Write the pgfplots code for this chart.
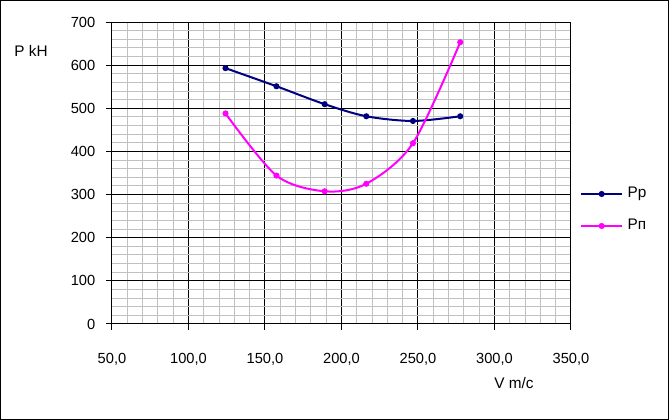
\documentclass[border=0pt]{standalone}
\usepackage{fontspec}
\setmainfont{Liberation Sans}
\usepackage{pgfplots}
\pgfplotsset{compat=1.18}
\definecolor{pnavy}{RGB}{0,0,128}
\definecolor{pmag}{RGB}{255,0,255}
\definecolor{mgrid}{RGB}{192,192,192}
\begin{document}
\begin{tikzpicture}
\useasboundingbox (-84pt,-72pt) rectangle (417.75pt,243pt);
\begin{axis}[
  at={(0,0)}, anchor=south west,
  scale only axis, width=344.25pt, height=226.5pt,
  xmin=50, xmax=350, ymin=0, ymax=700,
  xtick={50,100,...,350}, ytick={0,100,...,700},
  minor x tick num=4, minor y tick num=4,
  grid=both,
  major grid style={black, line width=0.75pt},
  minor grid style={mgrid, line width=0.75pt},
  axis line style={black, line width=0.75pt},
  tick align=outside, major tick length=4.5pt, minor tick length=0pt,
  tick style={black, line width=0.75pt},
  xtick pos=bottom, ytick pos=left,
  /pgf/number format/assume math mode=true,
  xticklabel style={/pgf/number format/.cd, fixed, fixed zerofill, precision=1, use comma, /tikz/.cd, yshift=-14.2pt},
  yticklabel style={/pgf/number format/.cd, fixed, /tikz/.cd, xshift=-4.5pt},
  ticklabel style={font=\fontsize{11pt}{13pt}\selectfont},
  every axis y label/.style={at={(axis description cs:-0.1765,0.903)}, anchor=center, font=\fontsize{11.5pt}{13pt}\selectfont},
  every axis x label/.style={at={(axis description cs:0.8758,-0.1954)}, anchor=center, font=\fontsize{11.5pt}{13pt}\selectfont},
  xlabel={V m/c}, ylabel={P kH},
  legend style={draw=none, fill=none, at={(axis description cs:1.0196,0.3775)}, anchor=west,
    inner sep=0pt, outer sep=0pt, row sep=7.9pt, font=\fontsize{11.5pt}{13pt}\selectfont,
    nodes={text height=7.5pt, text depth=2pt, inner sep=3.3pt}},
  legend cell align=left,
  legend image code/.code={
    \draw[#1, mark=none] (0pt,0pt) -- (31pt,0pt);
    \draw[#1, only marks] plot coordinates {(15.5pt,0pt)};
  },
]
\addplot[pnavy, line width=1.5pt, smooth, tension=0.5, mark=*, mark size=1.5pt] coordinates {
  (124.2,593) (157.5,551) (189,509.5) (216.2,481.5) (246.7,470.6) (277.6,481.5)
};
\addlegendentry{Pp}
\addplot[pmag, line width=1.5pt, smooth, tension=0.5, mark=*, mark size=1.5pt] coordinates {
  (124.2,488) (157.5,344) (189,307.6) (216.2,325) (246.7,419) (277.6,653)
};
\addlegendentry{Pп}
\end{axis}
\draw[black, line width=0.75pt] (-83.625pt,-71.625pt) rectangle (417.375pt,242.625pt);
\end{tikzpicture}
\end{document}
